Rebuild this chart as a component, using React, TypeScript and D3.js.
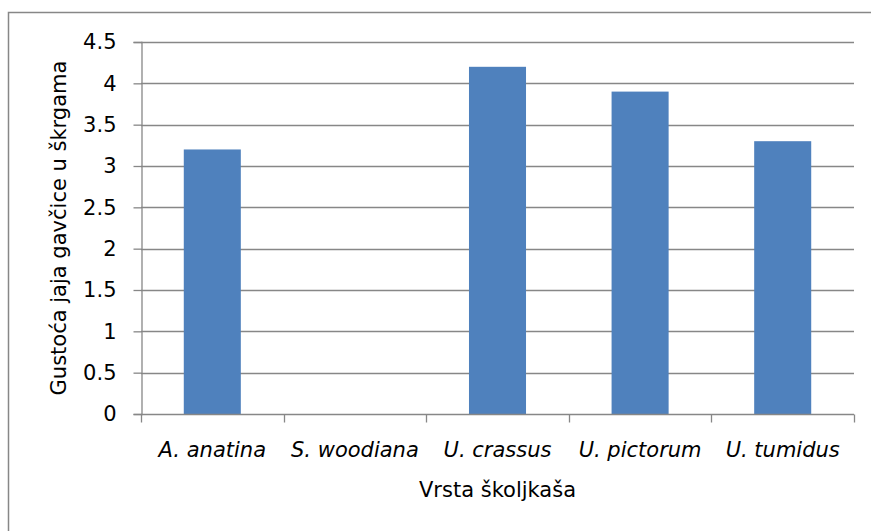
import React, { useEffect, useRef } from "react";
import * as d3 from "d3";

const species = ["A. anatina", "S. woodiana", "U. crassus", "U. pictorum", "U. tumidus"];
const density = [3.2, 0, 4.2, 3.9, 3.3];
const yTicks = [0, 0.5, 1, 1.5, 2, 2.5, 3, 3.5, 4, 4.5];

const xTitle = "Vrsta školjkaša";
const yTitle = "Gustoća jaja gavčice u škrgama";

const App = () => {
  const ref = useRef<SVGSVGElement>(null);

  useEffect(() => {
    const svg = d3.select(ref.current);
    svg.selectAll("*").remove();

    const width = 871;
    const height = 531;
    const margin = { top: 42, right: 17, bottom: 117, left: 141 };
    const font = "'DejaVu Sans', sans-serif";
    const gray = "#878787";

    svg.attr("width", width).attr("height", height);

    // chart frame (right/bottom edges run off the picture)
    svg
      .append("rect")
      .attr("x", 8.5)
      .attr("y", 12.5)
      .attr("width", width + 20)
      .attr("height", height + 20)
      .attr("fill", "white")
      .attr("stroke", gray)
      .attr("stroke-width", 1.5);

    const x = d3
      .scaleBand()
      .domain(species)
      .range([margin.left, width - margin.right])
      .paddingInner(0.6)
      .paddingOuter(0.3);

    const y = d3
      .scaleLinear()
      .domain([0, 4.5])
      .range([height - margin.bottom, margin.top]);

    // gridlines
    svg
      .append("g")
      .selectAll("line")
      .data(yTicks.filter((d) => d > 0))
      .join("line")
      .attr("x1", margin.left)
      .attr("x2", width - margin.right)
      .attr("y1", (d) => Math.round(y(d)) + 0.5)
      .attr("y2", (d) => Math.round(y(d)) + 0.5)
      .attr("stroke", gray)
      .attr("stroke-width", 1.3);

    svg
      .append("g")
      .selectAll("rect")
      .data(density)
      .join("rect")
      .attr("x", (d, i) => x(species[i]))
      .attr("y", (d) => y(d))
      .attr("width", x.bandwidth())
      .attr("height", (d) => y(0) - y(d))
      .attr("fill", "#4F81BD");

    const yAxis = svg
      .append("g")
      .attr("transform", `translate(${margin.left + 0.5},0)`)
      .call(d3.axisLeft(y).tickValues(yTicks).tickSize(8).tickPadding(17).tickFormat((d) => String(d)));

    const xAxis = svg
      .append("g")
      .attr("transform", `translate(0,${Math.round(y(0)) + 0.5})`)
      .call(d3.axisBottom(x).tickSize(0).tickPadding(28));

    // category boundary ticks
    const step = (width - margin.right - margin.left) / species.length;
    xAxis
      .selectAll("line.sep")
      .data(d3.range(species.length + 1))
      .join("line")
      .attr("class", "sep")
      .attr("x1", (d) => Math.round(margin.left + d * step) + 0.5)
      .attr("x2", (d) => Math.round(margin.left + d * step) + 0.5)
      .attr("y1", 0)
      .attr("y2", 8)
      .attr("stroke", gray)
      .attr("stroke-width", 1.3);

    [yAxis, xAxis].forEach((g) => {
      g.select(".domain").attr("stroke", gray).attr("stroke-width", 1.3);
      g.selectAll(".tick line").attr("stroke", gray).attr("stroke-width", 1.3);
      g.selectAll(".tick text").attr("fill", "black").style("font-family", font).style("font-size", "21px");
    });
    xAxis.selectAll(".tick text").style("font-style", "italic");
    xAxis.select(".domain").attr("d", `M${margin.left},0H${width - margin.right}`);

    svg
      .append("text")
      .attr("x", (margin.left + width - margin.right) / 2)
      .attr("y", 497)
      .attr("text-anchor", "middle")
      .style("font-family", font)
      .style("font-size", "21px")
      .text(xTitle);

    svg
      .append("text")
      .attr("transform", `translate(66,${(margin.top + height - margin.bottom) / 2}) rotate(-90)`)
      .attr("text-anchor", "middle")
      .style("font-family", font)
      .style("font-size", "21px")
      .text(yTitle);
  }, []);

  return <svg ref={ref} style={{ position: "absolute", left: 0, top: 0 }}></svg>;
};

export default App;
